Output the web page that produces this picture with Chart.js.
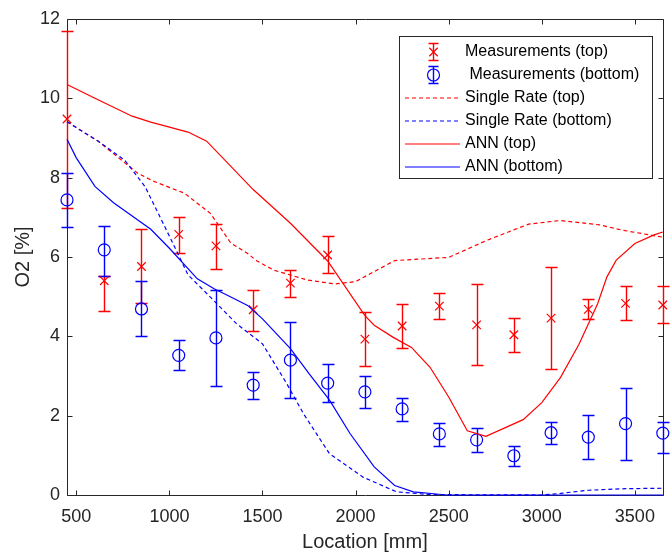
<!DOCTYPE html>
<html>
<head>
<meta charset="utf-8">
<script src="https://cdn.jsdelivr.net/npm/chart.js@4.4.1/dist/chart.umd.min.js"></script>
<style>
  html, body { margin: 0; padding: 0; background: #fff; }
  #wrap { width: 670px; height: 554px; }
</style>
</head>
<body>
<div id="wrap"><canvas id="myChart" width="670" height="554"></canvas></div>
<script>
// measurement locations [mm]
const locations = [450, 650, 850, 1050, 1250, 1450, 1650, 1850, 2050, 2250, 2450, 2650, 2850, 3050, 3250, 3450, 3650];

// measurements top: mean and error bar ends
const measTop     = [9.48, 5.40, 5.76, 6.57, 6.28, 4.67, 5.34, 6.05, 3.93, 4.26, 4.76, 4.29, 4.04, 4.46, 4.68, 4.83, 4.79];
const measTopHigh = [11.71, 5.52, 6.70, 7.02, 6.82, 5.18, 5.67, 6.54, 4.62, 4.81, 5.08, 5.31, 4.45, 5.76, 4.95, 5.27, 5.28];
const measTopLow  = [7.23, 4.64, 4.83, 6.09, 5.71, 4.14, 4.98, 5.60, 3.24, 3.71, 4.44, 3.28, 3.60, 3.18, 4.43, 4.40, 4.33];

// measurements bottom
const measBot     = [7.44, 6.18, 4.69, 3.52, 3.96, 2.77, 3.40, 2.82, 2.60, 2.17, 1.54, 1.39, 0.99, 1.57, 1.46, 1.80, 1.56];
const measBotHigh = [8.11, 6.79, 5.39, 3.90, 5.18, 3.10, 4.35, 3.29, 3.00, 2.44, 1.81, 1.70, 1.24, 1.84, 2.01, 2.71, 1.85];
const measBotLow  = [6.76, 5.52, 4.00, 3.16, 2.74, 2.41, 2.44, 2.35, 2.19, 1.87, 1.24, 1.08, 0.74, 1.28, 0.92, 0.88, 1.05];

// single rate model
const srTopX = [450, 620, 830, 920, 1080, 1220, 1330, 1420, 1470, 1560, 1740, 1890, 2000, 2210, 2500, 2710, 2930, 3100, 3310, 3430, 3610, 3650];
const srTopY = [9.41, 8.91, 8.11, 7.90, 7.61, 7.10, 6.35, 6.09, 5.90, 5.67, 5.42, 5.32, 5.38, 5.91, 5.99, 6.43, 6.83, 6.92, 6.81, 6.68, 6.53, 6.50];
const srBotX = [450, 620, 760, 870, 1010, 1100, 1220, 1360, 1500, 1630, 1720, 1860, 2040, 2220, 2400, 3000, 3100, 3250, 3450, 3650];
const srBotY = [9.41, 8.91, 8.44, 7.77, 6.43, 5.55, 4.99, 4.32, 3.81, 2.81, 2.05, 1.04, 0.45, 0.08, 0.01, 0.0, 0.04, 0.12, 0.16, 0.17];

// ANN model
const annTopX = [450, 600, 800, 900, 1100, 1200, 1450, 1650, 1850, 2050, 2100, 2200, 2300, 2400, 2500, 2600, 2700, 2900, 3000, 3100, 3200, 3300, 3350, 3400, 3500, 3600, 3650];
const annTopY = [10.35, 10.0, 9.55, 9.40, 9.15, 8.92, 7.70, 6.85, 5.90, 4.52, 4.28, 3.98, 3.72, 3.22, 2.47, 1.62, 1.48, 1.90, 2.33, 2.96, 3.80, 4.82, 5.50, 5.92, 6.34, 6.55, 6.63];
const annBotX = [450, 500, 600, 700, 900, 1000, 1150, 1240, 1330, 1420, 1500, 1650, 1750, 1860, 1970, 2100, 2210, 2310, 2490, 3650];
const annBotY = [8.97, 8.50, 7.78, 7.37, 6.70, 6.22, 5.45, 5.20, 4.99, 4.78, 4.44, 3.69, 3.06, 2.39, 1.55, 0.71, 0.24, 0.08, 0.0, 0.0];

const xTicks = [500, 1000, 1500, 2000, 2500, 3000, 3500];
const yTicks = [0, 2, 4, 6, 8, 10, 12];

const RED = '#ff0000';
const BLUE = '#0000ff';
const AXIS = '#262626';
const FONT = "'Liberation Sans', Arial, Helvetica, sans-serif";

const pts = (xs, ys) => xs.map((v, i) => ({ x: v, y: ys[i] }));
const px = (v) => Math.round(v) + 0.5;

// box around the axes with inward tick marks
const framePlugin = {
  id: 'frame',
  beforeDatasetsDraw(chart) {
    const { ctx, chartArea: a, scales } = chart;
    const L = px(a.left), R = px(a.right), T = px(a.top), B = px(a.bottom);
    ctx.save();
    ctx.strokeStyle = AXIS;
    ctx.lineWidth = 1;
    ctx.beginPath();
    ctx.rect(L, T, R - L, B - T);
    xTicks.forEach(v => {
      const x = px(scales.x.getPixelForValue(v));
      ctx.moveTo(x, B); ctx.lineTo(x, B - 5);
      ctx.moveTo(x, T); ctx.lineTo(x, T + 5);
    });
    yTicks.forEach(v => {
      const y = px(scales.y.getPixelForValue(v));
      ctx.moveTo(L, y); ctx.lineTo(L + 5, y);
      ctx.moveTo(R, y); ctx.lineTo(R - 5, y);
    });
    ctx.stroke();
    ctx.restore();
  }
};

const errorBarPlugin = {
  id: 'errorBars',
  beforeDatasetsDraw(chart) {
    const { ctx, scales: { x, y } } = chart;
    ctx.save();
    ctx.lineWidth = 1.4;
    chart.data.datasets.forEach(ds => {
      if (!ds.errLow) return;
      ctx.strokeStyle = ds.errColor;
      ctx.beginPath();
      ds.data.forEach((p, i) => {
        const cx = px(x.getPixelForValue(p.x));
        const hi = px(y.getPixelForValue(ds.errHigh[i]));
        const lo = px(y.getPixelForValue(ds.errLow[i]));
        ctx.moveTo(cx, hi); ctx.lineTo(cx, lo);
        ctx.moveTo(cx - 6, hi); ctx.lineTo(cx + 6, hi);
        ctx.moveTo(cx - 6, lo); ctx.lineTo(cx + 6, lo);
      });
      ctx.stroke();
    });
    ctx.restore();
  }
};

// legend box inside the axes, like the original figure
const legendPlugin = {
  id: 'boxLegend',
  afterDraw(chart) {
    const ctx = chart.ctx;
    const bx = 399.5, by = 36.5, bw = 253, bh = 142;
    ctx.save();
    ctx.fillStyle = '#fff';
    ctx.strokeStyle = AXIS;
    ctx.lineWidth = 1;
    ctx.fillRect(bx, by, bw, bh);
    ctx.strokeRect(bx, by, bw, bh);
    ctx.font = '16px ' + FONT;
    ctx.textBaseline = 'middle';
    chart.data.datasets.forEach((ds, i) => {
      const cy = 52 + i * 23;
      ctx.strokeStyle = ds.errColor || ds.borderColor;
      ctx.lineWidth = ds.errLow ? 1.4 : 1.2;
      if (ds.errLow) {
        const cx = 433.5;
        ctx.beginPath();
        ctx.moveTo(cx, cy - 9); ctx.lineTo(cx, cy + 9);
        ctx.moveTo(cx - 5, cy - 8.5); ctx.lineTo(cx + 5, cy - 8.5);
        ctx.moveTo(cx - 5, cy + 8.5); ctx.lineTo(cx + 5, cy + 8.5);
        ctx.stroke();
        ctx.lineWidth = 1.2;
        ctx.fillStyle = 'rgba(0,0,0,0)';
        Chart.helpers.drawPoint(ctx, {
          pointStyle: ds.pointStyle, radius: ds.pointRadius, borderWidth: 1.2, rotation: 0
        }, cx, cy);
      } else {
        ctx.setLineDash(ds.borderDash || []);
        ctx.beginPath();
        ctx.moveTo(405, cy); ctx.lineTo(460, cy);
        ctx.stroke();
        ctx.setLineDash([]);
      }
      ctx.fillStyle = '#000';
      ctx.fillText(ds.label, 465, cy);
    });
    ctx.restore();
  }
};

const main = () => {
  const ctx = document.getElementById('myChart').getContext('2d');

  const config = {
    type: 'scatter',
    data: {
      datasets: [
        {
          label: 'Measurements (top)',
          data: pts(locations, measTop),
          errHigh: measTopHigh,
          errLow: measTopLow,
          errColor: RED,
          borderColor: RED,
          pointBorderColor: RED,
          backgroundColor: 'rgba(0,0,0,0)',
          pointStyle: 'crossRot',
          pointRadius: 6,
          pointBorderWidth: 1.2,
          showLine: false,
          clip: false,
          order: 10,
        },
        {
          label: ' Measurements (bottom)',
          data: pts(locations, measBot),
          errHigh: measBotHigh,
          errLow: measBotLow,
          errColor: BLUE,
          borderColor: BLUE,
          pointBorderColor: BLUE,
          backgroundColor: 'rgba(0,0,0,0)',
          pointStyle: 'circle',
          pointRadius: 6,
          pointBorderWidth: 1.2,
          showLine: false,
          clip: false,
          order: 9,
        },
        {
          label: 'Single Rate (top)',
          data: pts(srTopX, srTopY),
          borderColor: RED,
          borderWidth: 1.2,
          borderDash: [4, 3],
          pointRadius: 0,
          showLine: true,
          clip: false,
          order: 4,
        },
        {
          label: 'Single Rate (bottom)',
          data: pts(srBotX, srBotY),
          borderColor: BLUE,
          borderWidth: 1.2,
          borderDash: [4, 3],
          pointRadius: 0,
          showLine: true,
          clip: false,
          order: 3,
        },
        {
          label: 'ANN (top)',
          data: pts(annTopX, annTopY),
          borderColor: RED,
          borderWidth: 1.2,
          pointRadius: 0,
          showLine: true,
          clip: false,
          order: 2,
        },
        {
          label: 'ANN (bottom)',
          data: pts(annBotX, annBotY),
          borderColor: BLUE,
          borderWidth: 1.2,
          pointRadius: 0,
          showLine: true,
          clip: false,
          order: 1,
        },
      ],
    },
    options: {
      responsive: false,
      animation: false,
      events: [],
      layout: { padding: { top: 19, right: -1, left: 0, bottom: 0 } },
      scales: {
        x: {
          type: 'linear',
          min: 450,
          max: 3650,
          afterFit: (scale) => { scale.height = 59; },
          afterBuildTicks: (axis) => { axis.ticks = xTicks.map(v => ({ value: v })); },
          grid: { display: false, drawTicks: false },
          border: { display: false },
          ticks: {
            padding: 11,
            color: AXIS,
            font: { family: FONT, size: 18 },
            maxRotation: 0,
            callback: (v) => String(v),
          },
          title: {
            display: true,
            text: 'Location [mm]',
            color: AXIS,
            font: { family: FONT, size: 20 },
            padding: { top: 0, bottom: 0 },
          },
        },
        y: {
          type: 'linear',
          min: 0,
          max: 12,
          afterFit: (scale) => { scale.width = 67; },
          afterBuildTicks: (axis) => { axis.ticks = yTicks.map(v => ({ value: v })); },
          grid: { display: false, drawTicks: false },
          border: { display: false },
          ticks: {
            padding: 7,
            color: AXIS,
            font: { family: FONT, size: 18 },
            callback: (v) => String(v),
          },
          title: {
            display: true,
            text: 'O2 [%]',
            color: AXIS,
            font: { family: FONT, size: 20 },
            padding: { top: 11, bottom: 0 },
          },
        },
      },
      plugins: {
        legend: { display: false },
        tooltip: { enabled: false },
      },
    },
    plugins: [framePlugin, errorBarPlugin, legendPlugin],
  };

  new Chart(ctx, config);
};

main();
</script>
</body>
</html>
